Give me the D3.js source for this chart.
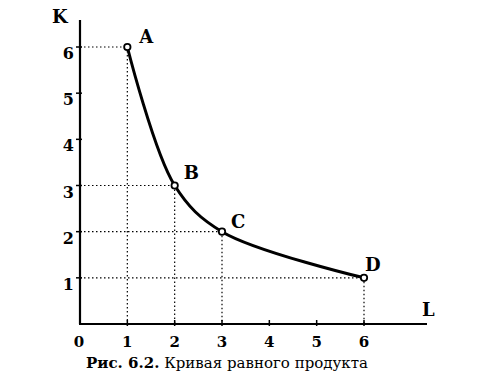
<!DOCTYPE html>
<html>
<head>
<meta charset="utf-8">
<script src="https://cdn.jsdelivr.net/npm/d3@7"></script>
<style>
  body { margin: 0; background: #fff; }
  text { font-family: "DejaVu Serif", "Liberation Serif", serif; fill: #000; }
</style>
</head>
<body>
<div id="chart"></div>
<script>
// points of the isoquant
var pointNames = ["A", "B", "C", "D"];
var labourValues = [1, 2, 3, 6];
var capitalValues = [6, 3, 2, 1];
var xTicks = [0, 1, 2, 3, 4, 5, 6];
var yTicks = [1, 2, 3, 4, 5, 6];
var captionBold = "Рис. 6.2.";
var captionText = " Кривая равного продукта";

var width = 482, height = 388;

var svg = d3.select("#chart").append("svg")
    .attr("width", width)
    .attr("height", height);

var x = d3.scaleLinear().domain([0, 6]).range([80, 364]);
var y = d3.scaleLinear().domain([0, 6]).range([324, 47]);

var data = pointNames.map(function(n, i) {
  return { name: n, L: labourValues[i], K: capitalValues[i] };
});

// dotted guides
var guides = svg.append("g")
    .attr("stroke", "#000")
    .attr("stroke-width", 1.2)
    .attr("stroke-dasharray", "1.5,2.5");

guides.selectAll(".h").data(data).enter().append("line")
    .attr("x1", x(0)).attr("x2", function(d) { return x(d.L); })
    .attr("y1", function(d) { return y(d.K); })
    .attr("y2", function(d) { return y(d.K); });

guides.selectAll(".v").data(data).enter().append("line")
    .attr("x1", function(d) { return x(d.L); })
    .attr("x2", function(d) { return x(d.L); })
    .attr("y1", function(d) { return y(d.K); })
    .attr("y2", y(0));

// axes
svg.append("line")
    .attr("x1", x(0)).attr("x2", x(0))
    .attr("y1", 20).attr("y2", y(0))
    .attr("stroke", "#000").attr("stroke-width", 2.2);
svg.append("line")
    .attr("x1", x(0) - 1).attr("x2", 427)
    .attr("y1", y(0)).attr("y2", y(0))
    .attr("stroke", "#000").attr("stroke-width", 2.2);

// tick marks
svg.selectAll(".yt").data(yTicks).enter().append("line")
    .attr("x1", x(0) - 4).attr("x2", x(0) + 2)
    .attr("y1", function(d) { return y(d); })
    .attr("y2", function(d) { return y(d); })
    .attr("stroke", "#000").attr("stroke-width", 1.5);
svg.selectAll(".xt").data(xTicks.slice(1)).enter().append("line")
    .attr("x1", function(d) { return x(d); })
    .attr("x2", function(d) { return x(d); })
    .attr("y1", y(0) - 4).attr("y2", y(0) + 2)
    .attr("stroke", "#000").attr("stroke-width", 1.5);

// tick labels
svg.selectAll(".yl").data(yTicks).enter().append("text")
    .attr("x", x(0) - 6)
    .attr("y", function(d) { return y(d) + 12; })
    .attr("text-anchor", "end")
    .style("font-size", "16px")
    .style("font-weight", "bold")
    .text(function(d) { return d; });

svg.selectAll(".xl").data(xTicks).enter().append("text")
    .attr("x", function(d) { return d === 0 ? x(d) - 1 : x(d); })
    .attr("y", 347)
    .attr("text-anchor", "middle")
    .style("font-size", "15px")
    .style("font-weight", "bold")
    .text(function(d) { return d; });

// axis names
svg.append("text")
    .attr("x", 52).attr("y", 23)
    .style("font-size", "18px")
    .style("font-weight", "bold")
    .text("K");
svg.append("text")
    .attr("x", 422).attr("y", 316)
    .style("font-size", "18px")
    .style("font-weight", "bold")
    .text("L");

// the curve
var line = d3.line()
    .x(function(d) { return x(d.L); })
    .y(function(d) { return y(d.K); })
    .curve(d3.curveCatmullRom.alpha(0.5));

svg.append("path")
    .datum(data)
    .attr("d", line)
    .attr("fill", "none")
    .attr("stroke", "#000")
    .attr("stroke-width", 3);

svg.selectAll(".pt").data(data).enter().append("circle")
    .attr("cx", function(d) { return x(d.L); })
    .attr("cy", function(d) { return y(d.K); })
    .attr("r", 3.2)
    .attr("fill", "#fff")
    .attr("stroke", "#000")
    .attr("stroke-width", 1.8);

var labelOffsets = { A: [12, -4], B: [9, -7], C: [9, -4], D: [1, -7] };
svg.selectAll(".pl").data(data).enter().append("text")
    .attr("x", function(d) { return x(d.L) + labelOffsets[d.name][0]; })
    .attr("y", function(d) { return y(d.K) + labelOffsets[d.name][1]; })
    .style("font-size", "18px")
    .style("font-weight", "bold")
    .text(function(d) { return d.name; });

// caption
var cap = svg.append("text")
    .attr("x", 227).attr("y", 368)
    .attr("text-anchor", "middle")
    .style("font-size", "15px");
cap.append("tspan").style("font-weight", "bold").text(captionBold);
cap.append("tspan").text(captionText);
</script>
</body>
</html>
